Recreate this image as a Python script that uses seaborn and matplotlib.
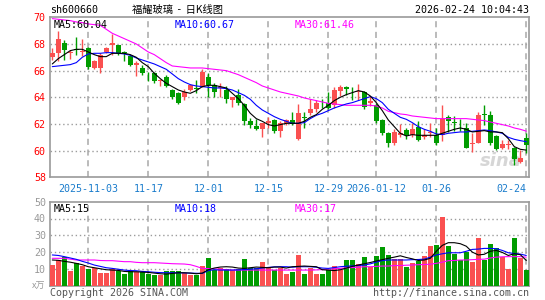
import numpy as np
import pandas as pd
import matplotlib
matplotlib.use("Agg")
import matplotlib.pyplot as plt
import seaborn as sns

# K线数据 (开, 高, 低, 收), 2025-10-24 .. 2026-02-24
opens = [67.0, 67.3, 68.1, 67.3, 67.6, 67.4, 67.7, 66.2, 66.2, 67.4,
         67.95, 67.9, 67.4, 67.1, 66.45, 66.2, 65.85, 65.8, 65.2, 65.55,
         64.55, 64.3, 64.05, 64.55, 64.7, 64.8, 65.55, 64.9, 64.7, 64.55,
         63.8, 64.2, 63.5, 62.2, 61.85, 61.6, 62.1, 62.3, 61.45, 62.1,
         62.3, 60.9, 62.55, 62.8, 63.1, 63.75, 63.6, 63.4, 64.5, 64.8,
         64.5, 64.4, 64.4, 63.55, 63.4, 62.3, 61.3, 60.55, 61.2, 61.55,
         61.15, 61.8, 61.05, 61.3, 61.2, 61.2, 62.55, 62.15, 61.95, 61.7,
         60.5, 60.6, 62.75, 62.7, 61.1, 60.2, 60.45, 60.2, 59.15, 60.95]
highs = [67.7, 69.0, 68.3, 67.55, 68.5, 68.4, 67.8, 66.8, 67.3, 67.8,
         68.75, 67.95, 67.45, 67.2, 66.7, 66.4, 65.9, 65.9, 65.4, 65.7,
         64.65, 64.4, 64.6, 64.95, 65.3, 66.15, 65.8, 65.1, 65.1, 64.85,
         64.05, 64.6, 63.55, 62.45, 62.4, 62.1, 62.55, 62.4, 62.2, 62.4,
         62.9, 63.5, 62.9, 63.9, 63.8, 63.9, 64.4, 64.8, 64.9, 64.85,
         64.8, 64.97, 64.5, 64.1, 63.6, 62.4, 61.4, 61.6, 62.0, 61.7,
         62.1, 62.2, 61.6, 62.05, 61.7, 63.4, 62.65, 62.6, 62.4, 62.05,
         61.3, 62.9, 63.4, 62.95, 61.2, 60.8, 60.8, 60.3, 60.05, 61.3]
lows = [66.8, 66.7, 66.8, 66.9, 67.2, 67.1, 66.1, 66.1, 65.8, 67.3,
        67.2, 67.2, 66.7, 66.35, 65.6, 65.7, 65.2, 65.1, 64.85, 64.8,
        63.9, 63.5, 63.8, 64.45, 64.3, 64.8, 64.0, 64.0, 64.0, 63.55,
        63.3, 63.4, 61.9, 61.7, 61.55, 61.05, 61.7, 61.3, 61.0, 61.95,
        61.9, 60.8, 61.7, 62.7, 62.9, 63.2, 63.1, 63.2, 64.1, 64.2,
        63.8, 63.8, 63.1, 63.35, 62.1, 61.2, 60.3, 60.4, 61.05, 60.9,
        61.05, 60.7, 60.9, 61.05, 60.4, 60.7, 61.4, 61.45, 61.5, 60.2,
        59.9, 60.55, 61.9, 60.4, 60.05, 60.15, 60.15, 58.95, 59.05, 59.8]
closes = [67.3, 68.4, 67.55, 67.4, 67.55, 67.5, 66.25, 66.7, 67.2, 67.7,
          68.05, 67.3, 67.3, 66.4, 66.6, 65.85, 65.8, 65.2, 65.3, 64.85,
          64.05, 63.6, 64.4, 64.9, 64.65, 65.9, 64.9, 64.4, 64.8, 63.9,
          64.0, 63.55, 62.2, 61.95, 61.6, 62.05, 62.2, 61.45, 62.1, 62.3,
          62.0, 62.8, 62.45, 63.1, 63.6, 63.7, 63.2, 64.55, 64.75, 64.6,
          64.45, 64.5, 63.3, 63.7, 62.2, 61.3, 60.55, 61.4, 61.3, 61.15,
          61.65, 60.8, 61.2, 61.4, 60.55, 62.4, 62.2, 62.1, 61.9, 60.2,
          60.6, 62.7, 62.7, 60.6, 60.15, 60.5, 60.5, 59.4, 59.45, 60.4]

# 均线
ma5 = [66.5, 66.9, 67.2, 67.5, 67.6, 67.6, 67.4, 67.2, 67.05, 67.05,
       67.3, 67.3, 67.3, 67.2, 67.0, 66.6, 66.3, 65.8, 65.4, 65.05,
       64.8, 64.55, 64.4, 64.3, 64.5, 64.8, 64.9, 64.9, 64.8, 64.7,
       64.3, 63.9, 63.4, 62.8, 62.4, 62.2, 61.95, 61.85, 61.95, 62.05,
       62.05, 62.05, 62.2, 62.5, 62.7, 63.1, 63.4, 63.75, 64.0, 64.2,
       64.35, 64.5, 64.4, 64.1, 63.6, 63.0, 62.3, 61.8, 61.3, 61.1,
       61.2, 61.15, 61.15, 61.15, 61.15, 61.3, 61.45, 61.6, 61.7, 61.6,
       61.4, 61.45, 61.5, 61.4, 61.4, 61.35, 60.9, 60.3, 60.1, 60.04]
ma10 = [66.3, 66.35, 66.4, 66.45, 66.6, 67.0, 67.25, 67.3, 67.3, 67.35,
        67.35, 67.3, 67.25, 67.15, 66.95, 66.8, 66.65, 66.5, 66.3, 66.1,
        65.75, 65.4, 65.15, 64.95, 64.85, 64.8, 64.75, 64.7, 64.7, 64.65,
        64.55, 64.35, 64.15, 63.85, 63.4, 63.05, 62.8, 62.55, 62.35, 62.2,
        62.05, 62.05, 62.1, 62.4, 62.65, 62.8, 63.0, 63.2, 63.35, 63.5,
        63.6, 63.75, 63.9, 64.05, 63.9, 63.6, 63.1, 62.8, 62.5, 62.35,
        62.1, 61.8, 61.6, 61.45, 61.25, 61.2, 61.3, 61.35, 61.4, 61.4,
        61.45, 61.5, 61.55, 61.5, 61.4, 61.3, 61.0, 60.85, 60.75, 60.67]
ma30 = [69.9, 69.85, 69.8, 69.75, 69.65, 69.6, 69.5, 69.45, 69.4, 69.1,
        68.8, 68.6, 68.4, 68.2, 68.0, 67.7, 67.4, 67.2, 66.9, 66.6,
        66.35, 66.3, 66.25, 66.2, 66.2, 66.2, 66.15, 66.1, 66.05, 66.0,
        65.85, 65.7, 65.5, 65.3, 65.1, 64.85, 64.7, 64.55, 64.4, 64.3,
        64.2, 64.1, 63.95, 63.85, 63.75, 63.65, 63.55, 63.5, 63.45, 63.4,
        63.4, 63.4, 63.4, 63.4, 63.35, 63.2, 62.95, 62.85, 62.75, 62.7,
        62.6, 62.55, 62.5, 62.45, 62.4, 62.4, 62.4, 62.4, 62.4, 62.4,
        62.35, 62.3, 62.25, 62.15, 62.05, 61.95, 61.85, 61.7, 61.6, 61.46]

# 成交量 (万手)
volume = [12.3, 15.3, 16.9, 8.9, 13.3, 11.7, 9.9, 10.3, 7.7, 7.7,
          9.7, 8.7, 6.9, 8.7, 8.1, 8.1, 6.9, 6.3, 6.3, 8.9,
          8.7, 8.7, 7.7, 6.3, 6.3, 11.7, 16.7, 9.3, 10.3, 9.9,
          9.3, 9.9, 15.9, 10.3, 10.3, 14.1, 10.9, 9.3, 10.7, 6.9,
          8.3, 18.3, 6.9, 10.7, 6.9, 6.9, 9.3, 11.7, 9.3, 15.3,
          15.3, 12.9, 16.9, 11.3, 17.7, 22.8, 18.3, 15.7, 15.7, 11.3,
          13.7, 14.7, 17.7, 23.6, 24.2, 41.1, 23.6, 18.8, 15.3, 20.0,
          14.3, 28.6, 15.3, 24.8, 22.2, 17.3, 10.1, 28.6, 16.7, 9.3]
vma5 = [15.3, 15.1, 14.5, 14.0, 13.3, 12.5, 11.3, 10.7, 10.1, 9.5,
        9.3, 9.1, 8.5, 8.3, 8.3, 8.1, 7.9, 7.5, 7.1, 6.9,
        7.3, 7.7, 7.7, 7.5, 7.1, 7.5, 9.5, 10.5, 11.1, 11.3,
        11.1, 10.5, 10.3, 10.7, 11.1, 10.9, 10.7, 11.1, 11.1, 10.5,
        11.3, 11.5, 11.7, 11.5, 11.3, 9.5, 9.3, 9.0, 9.5, 10.5,
        11.5, 12.3, 13.1, 13.8, 14.7, 15.5, 16.3, 17.0, 17.8, 16.8,
        16.0, 15.0, 15.3, 16.3, 20.5, 24.0, 25.6, 25.6, 25.0, 23.5,
        20.0, 18.3, 18.7, 20.5, 21.0, 19.8, 18.0, 19.0, 18.5, 15.0]
vma10 = [18.3, 18.0, 17.3, 16.5, 15.7, 14.5, 13.5, 12.3, 11.5, 10.7,
         10.3, 9.8, 9.3, 9.0, 8.9, 8.5, 8.3, 8.0, 7.8, 7.7,
         7.7, 7.7, 7.6, 7.5, 7.4, 7.3, 9.0, 9.5, 9.3, 9.3,
         9.3, 9.4, 9.6, 9.8, 10.1, 10.5, 10.9, 11.2, 11.3, 11.3,
         11.0, 11.3, 11.3, 11.3, 11.0, 10.5, 10.3, 10.8, 11.3, 11.6,
         11.8, 12.0, 12.3, 13.0, 14.0, 15.0, 15.3, 15.3, 15.3, 15.3,
         15.5, 15.6, 15.8, 17.0, 18.3, 19.0, 19.6, 19.6, 19.6, 20.5,
         21.6, 21.8, 22.2, 22.2, 22.0, 21.0, 19.6, 19.2, 18.8, 18.0]
vma30 = [16.3, 16.3, 16.3, 15.8, 15.3, 15.3, 15.3, 15.3, 15.0, 14.9,
         14.9, 14.6, 14.3, 14.3, 13.9, 13.7, 13.7, 13.7, 13.5, 13.3,
         13.1, 13.0, 12.9, 12.5, 11.5, 10.3, 10.2, 10.0, 9.8, 9.5,
         9.3, 9.3, 9.3, 9.3, 9.3, 9.3, 9.3, 9.3, 9.3, 9.3,
         9.3, 9.3, 9.3, 9.3, 9.4, 9.6, 9.9, 10.0, 10.3, 10.7,
         10.8, 11.0, 11.3, 11.3, 11.5, 11.7, 11.7, 12.0, 12.0, 12.2,
         12.3, 12.5, 12.6, 12.8, 13.3, 14.0, 14.9, 15.0, 15.3, 15.3,
         15.5, 15.7, 15.8, 16.5, 17.0, 17.2, 17.3, 17.3, 17.3, 17.0]

date_pos = [6, 16, 26, 36, 46, 54, 64, 79]
date_labels = ["2025-11-03", "11-17", "12-01", "12-15", "12-29",
               "2026-01-12", "01-26", "02-24"]
price_ticks = [58, 60, 62, 64, 66, 68, 70]
vol_ticks = [0, 10, 20, 30, 40, 50]

df = pd.DataFrame({"open": opens, "high": highs, "low": lows, "close": closes,
                   "vol": volume})
df["idx"] = np.arange(len(df))

RED = "#fa5050"
GREEN = "#009c00"
GRID = "#9c9c9c"
FRAME = "#9a9a9a"
CJK = ["Noto Sans CJK SC", "DejaVu Sans"]

sns.set_style("white")
plt.rcParams["font.family"] = ["DejaVu Sans Mono", "Noto Sans CJK SC"]
plt.rcParams["font.size"] = 7.2

fig = plt.figure(figsize=(5.45, 3.0), dpi=100)
ax = fig.add_axes([50 / 545, (300 - 177.3) / 300, 479 / 545, 160 / 300])
axv = fig.add_axes([50 / 545, (300 - 285.7) / 300, 479 / 545, 84 / 300])

up = df["close"] >= df["open"]
colors = np.where(up, RED, GREEN)

# 网格线
for a, lo, hi, hlines in ((ax, 58, 70, price_ticks[1:-1]),
                          (axv, 0, 50, vol_ticks[1:-1])):
    a.hlines(hlines, -1, 81, colors=GRID, linestyles=[(0, (1, 2))],
             linewidth=1.0, zorder=1)
    a.vlines(date_pos, lo, hi, colors="#a8a8a8", linestyles=[(0, (4, 3))],
             linewidth=1.1, zorder=1)

# K线
ax.vlines(df["idx"], df["low"], df["high"], colors=colors, linewidth=1.0, zorder=3)
body_low = df[["open", "close"]].min(axis=1)
body_h = (df["close"] - df["open"]).abs().clip(lower=0.05)
ax.bar(df["idx"], body_h, bottom=body_low, width=0.82, color=colors,
       linewidth=0, zorder=4)

sns.lineplot(x=df["idx"], y=ma30, ax=ax, color="#ff00ff", linewidth=0.8, zorder=5)
sns.lineplot(x=df["idx"], y=ma10, ax=ax, color="#0000ff", linewidth=0.8, zorder=5)
sns.lineplot(x=df["idx"], y=ma5, ax=ax, color="#000000", linewidth=0.8, zorder=6)

# 成交量
axv.bar(df["idx"], df["vol"], width=0.85, color=colors, linewidth=0, zorder=3)
sns.lineplot(x=df["idx"], y=vma30, ax=axv, color="#ff00ff", linewidth=0.8, zorder=5)
sns.lineplot(x=df["idx"], y=vma10, ax=axv, color="#0000ff", linewidth=0.8, zorder=5)
sns.lineplot(x=df["idx"], y=vma5, ax=axv, color="#000000", linewidth=0.8, zorder=6)

for a in (ax, axv):
    a.set_xlim(-0.38, 79.45)
    a.set_xlabel("")
    a.set_ylabel("")
    a.set_xticks(date_pos)
    a.tick_params(length=0)
    for s in a.spines.values():
        s.set_color(FRAME)
        s.set_linewidth(1.2)

ax.set_ylim(58, 70)
ax.set_yticks(price_ticks)
ax.set_yticklabels([str(t) for t in price_ticks], color="#ff0000")
ax.set_xticklabels(date_labels, color="#1a7ccc")
ax.tick_params(axis="x", pad=5)
ax.tick_params(axis="y", pad=3)
ax.get_xticklabels()[-1].set_ha("right")

axv.set_ylim(0, 50)
axv.set_yticks(vol_ticks)
axv.set_yticklabels(["x万"] + [str(t) for t in vol_ticks[1:]], color="#999999")
axv.get_yticklabels()[0].set_fontfamily(CJK)
axv.get_yticklabels()[0].set_fontsize(6.5)
axv.set_xticklabels([])
axv.tick_params(axis="y", pad=3)

# 标题与图例文字
fig.text(50 / 545, 1 - 10 / 300, "sh600660", ha="left", va="center", color="#000000")
fig.text(178 / 545, 1 - 10 / 300, "福耀玻璃  -  日K线图", ha="center", va="center",
         family=CJK, fontsize=7.4, color="#000000")
fig.text(529 / 545, 1 - 10 / 300, "2026-02-24 10:04:43", ha="right", va="center",
         color="#000000")

ax.text(0.008, 0.985, f"MA5:{ma5[-1]:.2f}", transform=ax.transAxes, ha="left",
        va="top", color="#000000", zorder=7)
ax.text(0.26, 0.985, f"MA10:{ma10[-1]:.2f}", transform=ax.transAxes, ha="left",
        va="top", color="#0000ff", zorder=7)
ax.text(0.51, 0.985, f"MA30:{ma30[-1]:.2f}", transform=ax.transAxes, ha="left",
        va="top", color="#ff00ff", zorder=7)
ax.text(0.985, 0.1, "sina", transform=ax.transAxes, ha="right", va="center",
        color="#d6d6d6", fontsize=13, style="italic", fontweight="bold",
        family="DejaVu Sans", zorder=2)

axv.text(0.008, 0.97, f"MA5:{vma5[-1]:.0f}", transform=axv.transAxes, ha="left",
         va="top", color="#000000", zorder=7)
axv.text(0.26, 0.97, f"MA10:{vma10[-1]:.0f}", transform=axv.transAxes, ha="left",
         va="top", color="#0000ff", zorder=7)
axv.text(0.51, 0.97, f"MA30:{vma30[-1]:.0f}", transform=axv.transAxes, ha="left",
         va="top", color="#ff00ff", zorder=7)

fig.text(50 / 545, 1 - 292.5 / 300, "Copyright 2026 SINA.COM", ha="left",
         va="center", color="#555555")
fig.text(529 / 545, 1 - 292.5 / 300, "http://finance.sina.com.cn", ha="right",
         va="center", color="#555555")

fig.savefig("out.png", dpi=100)
